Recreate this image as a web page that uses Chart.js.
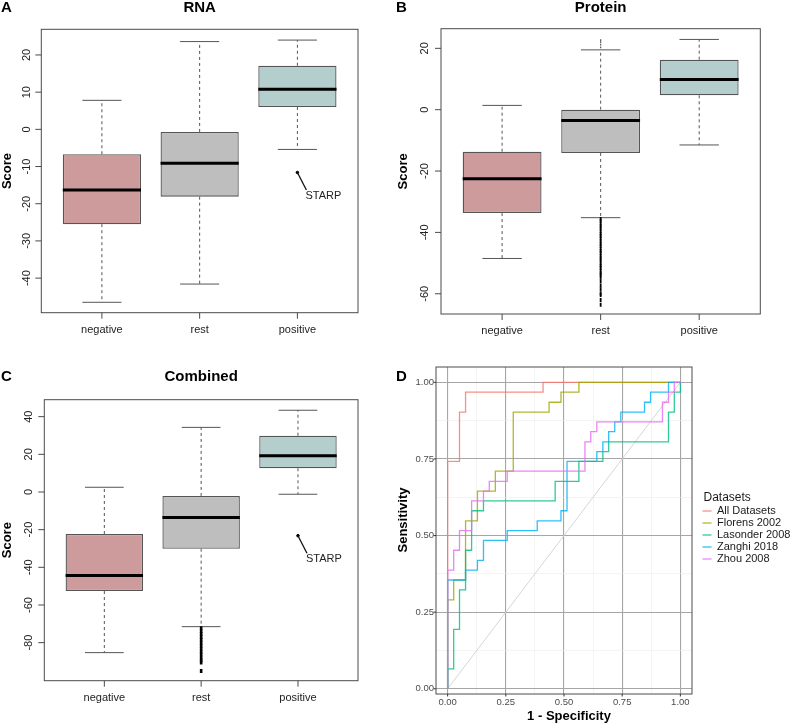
<!DOCTYPE html>
<html>
<head>
<meta charset="utf-8">
<script src="https://cdn.jsdelivr.net/npm/chart.js@4.4.1/dist/chart.umd.min.js"></script>
<style>
  body { margin: 0; background: #fff; }
  #wrap { position: relative; width: 790px; height: 723px; }
  #wrap canvas { position: absolute; left: 0; top: 0; }
</style>
</head>
<body>
<div id="wrap">
  <canvas id="chartA" width="790" height="723"></canvas>
  <canvas id="chartB" width="790" height="723"></canvas>
  <canvas id="chartC" width="790" height="723"></canvas>
  <canvas id="chartD" width="790" height="723"></canvas>
</div>
<script>
// ---- box plot data (negative / rest / positive) ----
const categories = ['negative', 'rest', 'positive'];
const boxColors = ['#CD9B9B', '#BEBEBE', '#B4CDCD'];
const annotatedCategory = 'positive';
const annotationText = 'STARP';

// A: RNA
const rnaLow = [-46.5, -41.6, -5.4];
const rnaQ1 = [-25.5, -18.1, 6.0];
const rnaMedian = [-16.3, -9.1, 10.8];
const rnaQ3 = [-6.7, -0.7, 17.1];
const rnaHigh = [7.8, 23.6, 24.0];
const rnaOutliers = [[], [], [-11.6]];
const rnaTicks = [-40, -30, -20, -10, 0, 10, 20];

// B: Protein
const protLow = [-48.5, -35.2, -11.5];
const protQ1 = [-33.7, -14.1, 4.7];
const protMedian = [-22.5, -3.5, 9.8];
const protQ3 = [-13.7, 0.0, 16.3];
const protHigh = [1.4, 19.5, 22.9];
const protOutliers = [
  [],
  [20.3, 21.2, 22.0, 22.7,
   -35.6, -36.3, -37.2, -38.0, -38.7, -39.6, -40.5, -41.2, -42.0, -42.9, -43.7, -44.4,
   -45.3, -46.1, -46.8, -47.7, -48.5, -49.2, -50.1, -50.9, -51.6, -52.5, -53.3, -53.9,
   -54.8, -56.0, -57.4, -58.6, -59.9, -60.4, -62.0, -63.6],
  []
];
const protTicks = [-60, -40, -20, 0, 20];

// C: Combined
const combLow = [-85.3, -71.5, -1.2];
const combQ1 = [-52.6, -30.1, 12.6];
const combMedian = [-44.3, -13.6, 19.3];
const combQ3 = [-22.3, -2.1, 29.9];
const combHigh = [2.5, 34.3, 43.4];
const combOutliers = [
  [],
  [-72.3, -73.9, -75.4, -77.0, -78.5, -80.1, -81.7, -83.2, -84.8, -86.3, -87.9, -89.4, -90.6, -95.1],
  [-23.2]
];
const combTicks = [-80, -60, -40, -20, 0, 20, 40];

// ---- ROC data (D) ----
const rocNames = ['All Datasets', 'Florens 2002', 'Lasonder 2008', 'Zanghi 2018', 'Zhou 2008'];
const rocColors = ['#F8766D', '#A3A500', '#00BF7D', '#00B0F6', '#E76BF3'];
const allFpr = [0, 0, 0.051, 0.077, 0.410, 1];
const allTpr = [0, 0.742, 0.903, 0.968, 1, 1];
const florensFpr = [0, 0, 0.026, 0.077, 0.128, 0.205, 0.282, 0.436, 0.487, 0.564, 1];
const florensTpr = [0, 0.290, 0.355, 0.548, 0.645, 0.710, 0.903, 0.935, 0.968, 1, 1];
const lasonderFpr = [0, 0, 0.026, 0.051, 0.077, 0.103, 0.154, 0.462, 0.564, 0.667, 0.692, 0.949, 0.974, 1];
const lasonderTpr = [0, 0.065, 0.194, 0.323, 0.452, 0.581, 0.613, 0.677, 0.742, 0.774, 0.806, 0.903, 0.968, 1];
const zanghiFpr = [0, 0, 0.077, 0.128, 0.154, 0.256, 0.385, 0.487, 0.513, 0.641, 0.667, 0.692, 0.718, 0.744, 0.846, 0.872, 0.949, 1];
const zanghiTpr = [0, 0.355, 0.387, 0.419, 0.484, 0.516, 0.548, 0.581, 0.742, 0.774, 0.806, 0.839, 0.871, 0.903, 0.935, 0.968, 1, 1];
const zhouFpr = [0, 0, 0.026, 0.051, 0.103, 0.154, 0.179, 0.256, 0.590, 0.615, 0.641, 0.923, 0.949, 0.974, 1];
const zhouTpr = [0, 0.387, 0.452, 0.516, 0.613, 0.645, 0.677, 0.710, 0.806, 0.839, 0.871, 0.935, 0.968, 1, 1];
const refLineX = [0, 1];
const refLineY = [0, 1];
const rocTicks = [0, 0.25, 0.5, 0.75, 1];
const rocGridStops = [0, 0.125, 0.25, 0.375, 0.5, 0.625, 0.75, 0.875, 1];

const FONT = '"Liberation Sans", Arial, Helvetica, sans-serif';

function segments(list) {
  const pts = [];
  list.forEach(s => pts.push({ x: s[0], y: s[1] }, { x: s[2], y: s[3] }, { x: s[2], y: null }));
  return pts;
}

function boxDecor(o) {
  return {
    id: 'boxDecor' + o.letter,
    afterDraw(chart) {
      const { ctx, chartArea: a, scales: { x, y } } = chart;
      ctx.save();
      ctx.strokeStyle = '#4a4a4a';
      ctx.lineWidth = 1;
      ctx.strokeRect(a.left, a.top, a.right - a.left, a.bottom - a.top);

      ctx.fillStyle = '#222';
      ctx.font = '11px ' + FONT;
      ctx.textAlign = 'center';
      ctx.textBaseline = 'middle';
      o.ticks.forEach(v => {
        const py = y.getPixelForValue(v);
        ctx.beginPath();
        ctx.moveTo(a.left - 6, py);
        ctx.lineTo(a.left, py);
        ctx.stroke();
        ctx.save();
        ctx.translate(o.tickLabelX, py);
        ctx.rotate(-Math.PI / 2);
        ctx.fillText(String(v), 0, 0);
        ctx.restore();
      });
      categories.forEach((c, i) => {
        const px = x.getPixelForValue(i + 1);
        ctx.beginPath();
        ctx.moveTo(px, a.bottom);
        ctx.lineTo(px, a.bottom + 6);
        ctx.stroke();
        ctx.fillText(c, px, a.bottom + 17);
      });

      // STARP label
      const k = categories.indexOf(annotatedCategory);
      o.outliers[k].forEach(v => {
        const px = x.getPixelForValue(k + 1);
        const py = y.getPixelForValue(v);
        ctx.strokeStyle = '#111';
        ctx.lineWidth = 1.3;
        ctx.beginPath();
        ctx.moveTo(px, py);
        ctx.lineTo(px + 9, py + 17.5);
        ctx.stroke();
        ctx.textAlign = 'left';
        ctx.fillText(annotationText, px + 8, py + 23);
        ctx.textAlign = 'center';
      });

      ctx.fillStyle = '#000';
      ctx.font = 'bold 15px ' + FONT;
      ctx.fillText(o.title, (a.left + a.right) / 2, o.titleY);
      ctx.textAlign = 'left';
      ctx.fillText(o.letter, o.letterX, o.titleY);
      ctx.font = 'bold 13px ' + FONT;
      ctx.textAlign = 'center';
      ctx.save();
      ctx.translate(o.scoreX, (a.top + a.bottom) / 2);
      ctx.rotate(-Math.PI / 2);
      ctx.fillText('Score', 0, 0);
      ctx.restore();
      ctx.restore();
    }
  };
}

function boxPanel(id, o) {
  const caps = [], whiskers = [], medians = [], boxes = [], outs = [];
  categories.forEach((c, i) => {
    const xi = i + 1;
    whiskers.push([xi, o.q3[i], xi, o.high[i]], [xi, o.q1[i], xi, o.low[i]]);
    caps.push([xi - 0.2, o.high[i], xi + 0.2, o.high[i]], [xi - 0.2, o.low[i], xi + 0.2, o.low[i]]);
    medians.push([xi - 0.4, o.median[i], xi + 0.4, o.median[i]]);
    boxes.push({ x: xi, y: [o.q1[i], o.q3[i]] });
    o.outliers[i].forEach(v => outs.push({ x: xi, y: v, up: v > o.high[i] }));
  });
  const isLabelled = c => c.raw && c.raw.x === categories.indexOf(annotatedCategory) + 1;

  new Chart(document.getElementById(id), {
    type: 'bar',
    data: {
      datasets: [
        { type: 'line', data: segments(medians), borderColor: '#000', borderWidth: 3, pointRadius: 0, order: 0 },
        {
          type: 'line', data: outs, showLine: false, order: 0,
          pointStyle: c => isLabelled(c) ? 'circle' : 'line',
          pointRotation: 90,
          pointRadius: c => isLabelled(c) ? 1.3 : (c.raw && c.raw.up ? 0.9 : 2),
          pointBorderWidth: c => isLabelled(c) ? 1 : (c.raw && c.raw.up ? 1.2 : o.outlierWidth),
          pointBorderColor: c => (c.raw && c.raw.up) ? '#555' : '#000',
          pointBackgroundColor: '#000'
        },
        { type: 'line', data: segments(caps), borderColor: '#555', borderWidth: 1, pointRadius: 0, order: 1 },
        {
          type: 'bar', data: boxes, backgroundColor: boxColors, borderColor: '#555', borderWidth: 1.3,
          borderSkipped: false, barPercentage: 0.8, categoryPercentage: 1, order: 2
        },
        { type: 'line', data: segments(whiskers), borderColor: '#555', borderWidth: 1, borderDash: [3, 3], pointRadius: 0, order: 3 }
      ]
    },
    options: {
      responsive: false,
      animation: false,
      events: [],
      layout: { padding: { left: o.area.left, top: o.area.top, right: 790 - o.area.right, bottom: 723 - o.area.bottom } },
      plugins: { legend: { display: false }, tooltip: { enabled: false } },
      scales: {
        x: {
          type: 'linear', display: false, offset: false, min: 0.38, max: 3.62,
          afterBuildTicks: s => { s.ticks = categories.map((c, i) => ({ value: i + 1 })); }
        },
        y: {
          type: 'linear', display: false, min: o.yMin, max: o.yMax,
          afterBuildTicks: s => { s.ticks = o.ticks.map(v => ({ value: v })); }
        }
      }
    },
    plugins: [boxDecor(o)]
  });
}

boxPanel('chartA', {
  letter: 'A', title: 'RNA',
  low: rnaLow, q1: rnaQ1, median: rnaMedian, q3: rnaQ3, high: rnaHigh, outliers: rnaOutliers, ticks: rnaTicks,
  yMin: -49.3, yMax: 26.9,
  area: { left: 41.3, top: 29.3, right: 358, bottom: 312.7 },
  tickLabelX: 27.3, scoreX: 7.5, titleY: 8, letterX: 1, outlierWidth: 2
});

boxPanel('chartB', {
  letter: 'B', title: 'Protein',
  low: protLow, q1: protQ1, median: protMedian, q3: protQ3, high: protHigh, outliers: protOutliers, ticks: protTicks,
  yMin: -66.6, yMax: 26.4,
  area: { left: 441, top: 28.7, right: 760.3, bottom: 314 },
  tickLabelX: 425, scoreX: 403.5, titleY: 7.5, letterX: 396, outlierWidth: 1.8
});

boxPanel('chartC', {
  letter: 'C', title: 'Combined',
  low: combLow, q1: combQ1, median: combMedian, q3: combQ3, high: combHigh, outliers: combOutliers, ticks: combTicks,
  yMin: -100.2, yMax: 49.0,
  area: { left: 44.3, top: 399.7, right: 358, bottom: 680.7 },
  tickLabelX: 29.3, scoreX: 7.5, titleY: 376.5, letterX: 1, outlierWidth: 2.6
});

// ---- D: ROC curves ----
const rocSeries = [
  [allFpr, allTpr], [florensFpr, florensTpr], [lasonderFpr, lasonderTpr], [zanghiFpr, zanghiTpr], [zhouFpr, zhouTpr]
];
const rocDatasets = rocSeries.map((s, k) => ({
  label: rocNames[k],
  data: s[0].map((v, i) => ({ x: v, y: s[1][i] })),
  borderColor: rocColors[k] + 'D0',
  borderWidth: 1.3,
  pointRadius: 0,
  stepped: 'before',
  order: rocNames.length - k
}));
rocDatasets.push({
  label: 'reference',
  data: refLineX.map((v, i) => ({ x: v, y: refLineY[i] })),
  borderColor: '#d6d6d6', borderWidth: 1, pointRadius: 0, order: 20
});

const isMajor = v => Math.abs(v * 4 - Math.round(v * 4)) < 1e-9;
const gridOpts = {
  drawTicks: false,
  color: c => (c.tick && isMajor(c.tick.value)) ? '#a6a6a6' : '#ededed',
  lineWidth: c => (c.tick && isMajor(c.tick.value)) ? 1.1 : 0.6
};

const rocDecor = {
  id: 'rocDecor',
  afterDraw(chart) {
    const { ctx, chartArea: a, scales: { x, y } } = chart;
    ctx.save();
    ctx.strokeStyle = '#4d4d4d';
    ctx.lineWidth = 1;
    ctx.strokeRect(a.left, a.top, a.right - a.left, a.bottom - a.top);

    ctx.fillStyle = '#4d4d4d';
    ctx.font = '9.5px ' + FONT;
    ctx.textBaseline = 'middle';
    rocTicks.forEach(v => {
      const px = x.getPixelForValue(v);
      const py = y.getPixelForValue(v);
      ctx.strokeStyle = '#333';
      ctx.beginPath();
      ctx.moveTo(px, a.bottom); ctx.lineTo(px, a.bottom + 2.5);
      ctx.moveTo(a.left - 2.5, py); ctx.lineTo(a.left, py);
      ctx.stroke();
      ctx.textAlign = 'center';
      ctx.fillText(v.toFixed(2), px, a.bottom + 8);
      ctx.textAlign = 'right';
      ctx.fillText(v.toFixed(2), a.left - 2, py);
    });

    ctx.fillStyle = '#000';
    ctx.font = 'bold 13px ' + FONT;
    ctx.textAlign = 'center';
    ctx.fillText('1 - Specificity', 569, 716);
    ctx.save();
    ctx.translate(403.5, 520);
    ctx.rotate(-Math.PI / 2);
    ctx.fillText('Sensitivity', 0, 0);
    ctx.restore();
    ctx.font = 'bold 15px ' + FONT;
    ctx.textAlign = 'left';
    ctx.fillText('D', 396, 377);

    // legend
    ctx.fillStyle = '#1a1a1a';
    ctx.font = '12px ' + FONT;
    ctx.fillText('Datasets', 703.5, 498);
    ctx.font = '11px ' + FONT;
    rocNames.forEach((n, k) => {
      const ly = 511 + k * 12;
      ctx.strokeStyle = rocColors[k] + 'D0';
      ctx.lineWidth = 1.3;
      ctx.beginPath();
      ctx.moveTo(702.5, ly); ctx.lineTo(711.5, ly);
      ctx.stroke();
      ctx.fillText(n, 717, ly);
    });
    ctx.restore();
  }
};

new Chart(document.getElementById('chartD'), {
  type: 'line',
  data: { datasets: rocDatasets },
  options: {
    responsive: false,
    animation: false,
    events: [],
    layout: { padding: { left: 436, top: 367, right: 790 - 692, bottom: 723 - 694 } },
    plugins: { legend: { display: false }, tooltip: { enabled: false } },
    scales: {
      x: {
        type: 'linear', min: -0.05, max: 1.05,
        ticks: { display: false }, border: { display: false }, grid: gridOpts,
        afterBuildTicks: s => { s.ticks = rocGridStops.map(v => ({ value: v })); }
      },
      y: {
        type: 'linear', min: -0.017, max: 1.05,
        ticks: { display: false }, border: { display: false }, grid: gridOpts,
        afterBuildTicks: s => { s.ticks = rocGridStops.map(v => ({ value: v })); }
      }
    }
  },
  plugins: [rocDecor]
});
</script>
</body>
</html>
